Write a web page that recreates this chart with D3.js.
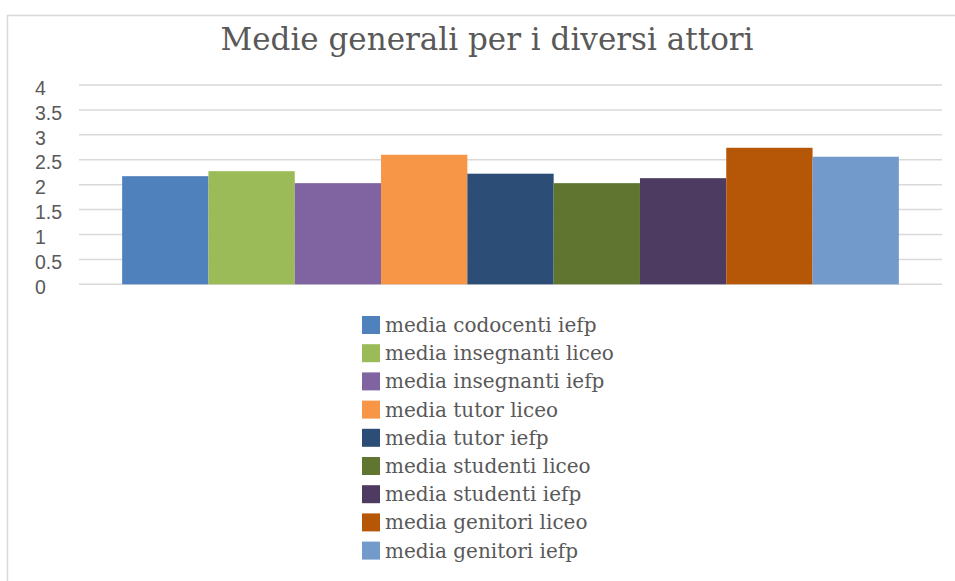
<!DOCTYPE html>
<html>
<head>
<meta charset="utf-8">
<script src="https://cdn.jsdelivr.net/npm/d3@7"></script>
<style>
  html, body { margin: 0; padding: 0; background: #fff; }
  svg { display: block; }
</style>
</head>
<body>
<svg id="chart" width="955" height="581"></svg>
<script>
const title = "Medie generali per i diversi attori";
const seriesNames = [
  "media codocenti iefp",
  "media insegnanti liceo",
  "media insegnanti iefp",
  "media tutor liceo",
  "media tutor iefp",
  "media studenti liceo",
  "media studenti iefp",
  "media genitori liceo",
  "media genitori iefp"
];
const seriesValues = [2.17, 2.27, 2.03, 2.60, 2.22, 2.03, 2.13, 2.74, 2.56];
const seriesColors = ["#4F81BD", "#9BBB59", "#8064A2", "#F79646", "#2C4D75", "#5F7530", "#4D3B62", "#B65708", "#729ACA"];
const yTicks = [0, 0.5, 1, 1.5, 2, 2.5, 3, 3.5, 4];
const category = ["1"];

const svg = d3.select("#chart");
const textColor = "#595959";

// chart border
svg.append("rect")
  .attr("x", 7.5).attr("y", 15.5)
  .attr("width", 1000).attr("height", 700)
  .attr("fill", "#fff").attr("stroke", "#d9d9d9").attr("stroke-width", 1.5);

const plot = { left: 79, right: 942, top: 85, bottom: 284.3 };

const y = d3.scaleLinear().domain([0, 4]).range([plot.bottom, plot.top]);

// group occupies 90% of the category band (gap width = one bar)
const xg = d3.scaleBand().domain(category).range([plot.left, plot.right]).paddingOuter(0.05 / 0.9).paddingInner(0);
const x1 = d3.scaleBand().domain(seriesNames).range([0, xg.bandwidth()]).padding(0);

// gridlines
const grid = svg.append("g");
grid.selectAll("line").data(yTicks).join("line")
  .attr("x1", plot.left).attr("x2", plot.right)
  .attr("y1", d => y(d)).attr("y2", d => y(d))
  .attr("stroke", "#d9d9d9").attr("stroke-width", 1.5);

// y axis labels via d3 axis
const yAxis = d3.axisLeft(y).tickValues(yTicks).tickFormat(d3.format("")).tickSize(0).tickPadding(0);
const ya = svg.append("g").attr("transform", `translate(35,3)`).call(yAxis);
ya.select(".domain").remove();
ya.selectAll("text")
  .attr("text-anchor", "start")
  .attr("fill", textColor)
  .style("font-family", "'Liberation Sans', Arial, sans-serif")
  .style("font-size", "19.5px");

// bars
const g = svg.append("g").attr("transform", `translate(${xg(category[0])},0)`);
g.selectAll("rect").data(seriesNames.map((n, i) => ({ n, v: seriesValues[i], c: seriesColors[i] })))
  .join("rect")
  .attr("x", d => x1(d.n))
  .attr("y", d => y(d.v))
  .attr("width", x1.bandwidth())
  .attr("height", d => y(0) - y(d.v))
  .attr("fill", d => d.c);

// title
svg.append("text")
  .attr("x", 487).attr("y", 50)
  .attr("text-anchor", "middle")
  .attr("fill", textColor)
  .style("font-family", "'DejaVu Serif', serif")
  .style("font-size", "31px")
  .text(title);

// legend
const legend = svg.append("g");
const rowH = 28.2;
const lg = legend.selectAll("g").data(seriesNames).join("g")
  .attr("transform", (d, i) => `translate(362,${316 + i * rowH})`);
lg.append("rect")
  .attr("width", 18).attr("height", 18)
  .attr("fill", (d, i) => seriesColors[i]);
lg.append("text")
  .attr("x", 23).attr("y", 16)
  .attr("fill", textColor)
  .style("font-family", "'DejaVu Serif', serif")
  .style("font-size", "20px")
  .text(d => d);
</script>
</body>
</html>
